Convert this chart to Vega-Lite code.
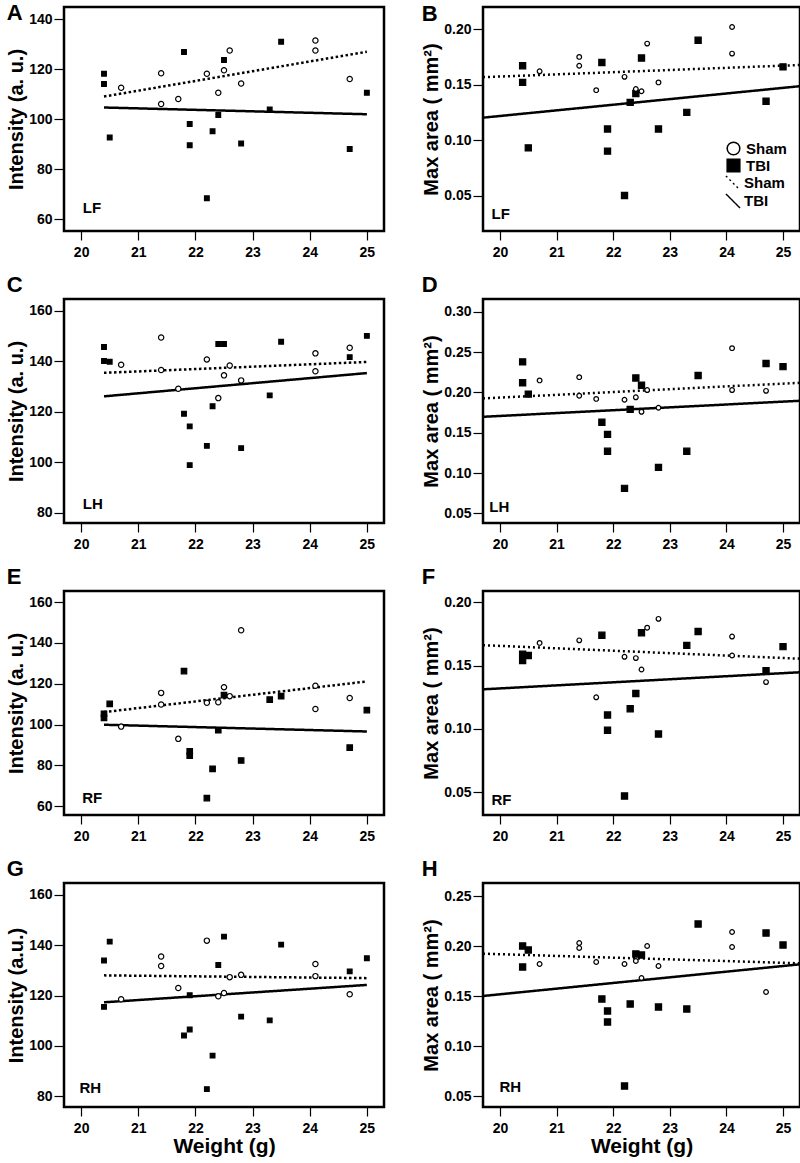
{
  "$schema": "https://vega.github.io/schema/vega-lite/v6.json",
  "background": "white",
  "padding": {"left": 5, "top": 0, "right": 0, "bottom": 0},
  "datasets": {
    "points": [
      {"p":"A","g":"TBI","w":20.4,"v":118.1},{"p":"A","g":"TBI","w":20.4,"v":114.0},{"p":"A","g":"TBI","w":20.5,"v":92.6},{"p":"A","g":"TBI","w":21.8,"v":126.8},{"p":"A","g":"TBI","w":21.9,"v":98.0},{"p":"A","g":"TBI","w":21.9,"v":89.5},{"p":"A","g":"TBI","w":22.2,"v":68.3},{"p":"A","g":"TBI","w":22.3,"v":95.1},{"p":"A","g":"TBI","w":22.4,"v":101.6},{"p":"A","g":"TBI","w":22.5,"v":123.6},{"p":"A","g":"TBI","w":22.8,"v":90.2},{"p":"A","g":"TBI","w":23.3,"v":103.8},{"p":"A","g":"TBI","w":23.5,"v":130.9},{"p":"A","g":"TBI","w":24.7,"v":88.0},{"p":"A","g":"TBI","w":25.0,"v":110.5},
      {"p":"A","g":"Sham","w":20.7,"v":112.5},{"p":"A","g":"Sham","w":21.4,"v":118.3},{"p":"A","g":"Sham","w":21.4,"v":106.0},{"p":"A","g":"Sham","w":21.7,"v":108.0},{"p":"A","g":"Sham","w":22.2,"v":118.1},{"p":"A","g":"Sham","w":22.4,"v":110.5},{"p":"A","g":"Sham","w":22.5,"v":119.5},{"p":"A","g":"Sham","w":22.6,"v":127.4},{"p":"A","g":"Sham","w":22.8,"v":114.2},{"p":"A","g":"Sham","w":24.1,"v":131.4},{"p":"A","g":"Sham","w":24.1,"v":127.4},{"p":"A","g":"Sham","w":24.7,"v":116.0},
      {"p":"B","g":"TBI","w":20.4,"v":0.167},{"p":"B","g":"TBI","w":20.4,"v":0.152},{"p":"B","g":"TBI","w":20.5,"v":0.093},{"p":"B","g":"TBI","w":21.8,"v":0.170},{"p":"B","g":"TBI","w":21.9,"v":0.110},{"p":"B","g":"TBI","w":21.9,"v":0.090},{"p":"B","g":"TBI","w":22.2,"v":0.050},{"p":"B","g":"TBI","w":22.3,"v":0.134},{"p":"B","g":"TBI","w":22.4,"v":0.142},{"p":"B","g":"TBI","w":22.5,"v":0.174},{"p":"B","g":"TBI","w":22.8,"v":0.110},{"p":"B","g":"TBI","w":23.3,"v":0.125},{"p":"B","g":"TBI","w":23.5,"v":0.190},{"p":"B","g":"TBI","w":24.7,"v":0.135},{"p":"B","g":"TBI","w":25.0,"v":0.166},
      {"p":"B","g":"Sham","w":20.7,"v":0.162},{"p":"B","g":"Sham","w":21.4,"v":0.175},{"p":"B","g":"Sham","w":21.4,"v":0.167},{"p":"B","g":"Sham","w":21.7,"v":0.145},{"p":"B","g":"Sham","w":22.2,"v":0.157},{"p":"B","g":"Sham","w":22.4,"v":0.146},{"p":"B","g":"Sham","w":22.5,"v":0.144},{"p":"B","g":"Sham","w":22.6,"v":0.187},{"p":"B","g":"Sham","w":22.8,"v":0.152},{"p":"B","g":"Sham","w":24.1,"v":0.202},{"p":"B","g":"Sham","w":24.1,"v":0.178},
      {"p":"C","g":"TBI","w":20.4,"v":145.6},{"p":"C","g":"TBI","w":20.4,"v":140.1},{"p":"C","g":"TBI","w":20.5,"v":139.8},{"p":"C","g":"TBI","w":21.8,"v":119.2},{"p":"C","g":"TBI","w":21.9,"v":114.2},{"p":"C","g":"TBI","w":21.9,"v":98.9},{"p":"C","g":"TBI","w":22.2,"v":106.5},{"p":"C","g":"TBI","w":22.3,"v":122.2},{"p":"C","g":"TBI","w":22.4,"v":146.8},{"p":"C","g":"TBI","w":22.5,"v":146.8},{"p":"C","g":"TBI","w":22.8,"v":105.6},{"p":"C","g":"TBI","w":23.3,"v":126.5},{"p":"C","g":"TBI","w":23.5,"v":147.7},{"p":"C","g":"TBI","w":24.7,"v":141.6},{"p":"C","g":"TBI","w":25.0,"v":150.0},
      {"p":"C","g":"Sham","w":20.7,"v":138.6},{"p":"C","g":"Sham","w":21.4,"v":149.4},{"p":"C","g":"Sham","w":21.4,"v":136.5},{"p":"C","g":"Sham","w":21.7,"v":129.1},{"p":"C","g":"Sham","w":22.2,"v":140.7},{"p":"C","g":"Sham","w":22.4,"v":125.4},{"p":"C","g":"Sham","w":22.5,"v":134.4},{"p":"C","g":"Sham","w":22.6,"v":138.3},{"p":"C","g":"Sham","w":22.8,"v":132.4},{"p":"C","g":"Sham","w":24.1,"v":143.1},{"p":"C","g":"Sham","w":24.1,"v":136.0},{"p":"C","g":"Sham","w":24.7,"v":145.3},
      {"p":"D","g":"TBI","w":20.4,"v":0.238},{"p":"D","g":"TBI","w":20.4,"v":0.212},{"p":"D","g":"TBI","w":20.5,"v":0.198},{"p":"D","g":"TBI","w":21.8,"v":0.163},{"p":"D","g":"TBI","w":21.9,"v":0.148},{"p":"D","g":"TBI","w":21.9,"v":0.127},{"p":"D","g":"TBI","w":22.2,"v":0.081},{"p":"D","g":"TBI","w":22.3,"v":0.179},{"p":"D","g":"TBI","w":22.4,"v":0.218},{"p":"D","g":"TBI","w":22.5,"v":0.209},{"p":"D","g":"TBI","w":22.8,"v":0.107},{"p":"D","g":"TBI","w":23.3,"v":0.127},{"p":"D","g":"TBI","w":23.5,"v":0.221},{"p":"D","g":"TBI","w":24.7,"v":0.236},{"p":"D","g":"TBI","w":25.0,"v":0.232},
      {"p":"D","g":"Sham","w":20.7,"v":0.215},{"p":"D","g":"Sham","w":21.4,"v":0.219},{"p":"D","g":"Sham","w":21.4,"v":0.196},{"p":"D","g":"Sham","w":21.7,"v":0.192},{"p":"D","g":"Sham","w":22.2,"v":0.191},{"p":"D","g":"Sham","w":22.4,"v":0.194},{"p":"D","g":"Sham","w":22.5,"v":0.176},{"p":"D","g":"Sham","w":22.6,"v":0.203},{"p":"D","g":"Sham","w":22.8,"v":0.181},{"p":"D","g":"Sham","w":24.1,"v":0.255},{"p":"D","g":"Sham","w":24.1,"v":0.203},{"p":"D","g":"Sham","w":24.7,"v":0.202},
      {"p":"E","g":"TBI","w":20.4,"v":105.3},{"p":"E","g":"TBI","w":20.4,"v":103.3},{"p":"E","g":"TBI","w":20.5,"v":110.1},{"p":"E","g":"TBI","w":21.8,"v":126.2},{"p":"E","g":"TBI","w":21.9,"v":86.9},{"p":"E","g":"TBI","w":21.9,"v":84.7},{"p":"E","g":"TBI","w":22.2,"v":64.0},{"p":"E","g":"TBI","w":22.3,"v":78.3},{"p":"E","g":"TBI","w":22.4,"v":97.2},{"p":"E","g":"TBI","w":22.5,"v":114.4},{"p":"E","g":"TBI","w":22.8,"v":82.4},{"p":"E","g":"TBI","w":23.3,"v":112.2},{"p":"E","g":"TBI","w":23.5,"v":113.9},{"p":"E","g":"TBI","w":24.7,"v":88.7},{"p":"E","g":"TBI","w":25.0,"v":107.1},
      {"p":"E","g":"Sham","w":20.7,"v":99.0},{"p":"E","g":"Sham","w":21.4,"v":115.5},{"p":"E","g":"Sham","w":21.4,"v":109.8},{"p":"E","g":"Sham","w":21.7,"v":93.0},{"p":"E","g":"Sham","w":22.2,"v":110.7},{"p":"E","g":"Sham","w":22.4,"v":110.9},{"p":"E","g":"Sham","w":22.5,"v":118.3},{"p":"E","g":"Sham","w":22.6,"v":113.9},{"p":"E","g":"Sham","w":22.8,"v":146.2},{"p":"E","g":"Sham","w":24.1,"v":119.0},{"p":"E","g":"Sham","w":24.1,"v":107.6},{"p":"E","g":"Sham","w":24.7,"v":113.0},
      {"p":"F","g":"TBI","w":20.4,"v":0.159},{"p":"F","g":"TBI","w":20.4,"v":0.154},{"p":"F","g":"TBI","w":20.5,"v":0.158},{"p":"F","g":"TBI","w":21.8,"v":0.174},{"p":"F","g":"TBI","w":21.9,"v":0.111},{"p":"F","g":"TBI","w":21.9,"v":0.099},{"p":"F","g":"TBI","w":22.2,"v":0.047},{"p":"F","g":"TBI","w":22.3,"v":0.116},{"p":"F","g":"TBI","w":22.4,"v":0.128},{"p":"F","g":"TBI","w":22.5,"v":0.176},{"p":"F","g":"TBI","w":22.8,"v":0.096},{"p":"F","g":"TBI","w":23.3,"v":0.166},{"p":"F","g":"TBI","w":23.5,"v":0.177},{"p":"F","g":"TBI","w":24.7,"v":0.146},{"p":"F","g":"TBI","w":25.0,"v":0.165},
      {"p":"F","g":"Sham","w":20.7,"v":0.168},{"p":"F","g":"Sham","w":21.4,"v":0.170},{"p":"F","g":"Sham","w":21.7,"v":0.125},{"p":"F","g":"Sham","w":22.2,"v":0.157},{"p":"F","g":"Sham","w":22.4,"v":0.156},{"p":"F","g":"Sham","w":22.5,"v":0.147},{"p":"F","g":"Sham","w":22.6,"v":0.180},{"p":"F","g":"Sham","w":22.8,"v":0.187},{"p":"F","g":"Sham","w":24.1,"v":0.173},{"p":"F","g":"Sham","w":24.1,"v":0.158},{"p":"F","g":"Sham","w":24.7,"v":0.137},
      {"p":"G","g":"TBI","w":20.4,"v":133.9},{"p":"G","g":"TBI","w":20.4,"v":115.5},{"p":"G","g":"TBI","w":20.5,"v":141.4},{"p":"G","g":"TBI","w":21.8,"v":104.1},{"p":"G","g":"TBI","w":21.9,"v":120.1},{"p":"G","g":"TBI","w":21.9,"v":106.5},{"p":"G","g":"TBI","w":22.2,"v":82.8},{"p":"G","g":"TBI","w":22.3,"v":96.1},{"p":"G","g":"TBI","w":22.4,"v":132.1},{"p":"G","g":"TBI","w":22.5,"v":143.4},{"p":"G","g":"TBI","w":22.8,"v":111.6},{"p":"G","g":"TBI","w":23.3,"v":110.1},{"p":"G","g":"TBI","w":23.5,"v":140.2},{"p":"G","g":"TBI","w":24.7,"v":129.6},{"p":"G","g":"TBI","w":25.0,"v":134.8},
      {"p":"G","g":"Sham","w":20.7,"v":118.5},{"p":"G","g":"Sham","w":21.4,"v":135.5},{"p":"G","g":"Sham","w":21.4,"v":131.7},{"p":"G","g":"Sham","w":21.7,"v":123.0},{"p":"G","g":"Sham","w":22.2,"v":141.8},{"p":"G","g":"Sham","w":22.4,"v":119.7},{"p":"G","g":"Sham","w":22.5,"v":121.0},{"p":"G","g":"Sham","w":22.6,"v":127.3},{"p":"G","g":"Sham","w":22.8,"v":128.2},{"p":"G","g":"Sham","w":24.1,"v":132.5},{"p":"G","g":"Sham","w":24.1,"v":127.7},{"p":"G","g":"Sham","w":24.7,"v":120.5},
      {"p":"H","g":"TBI","w":20.4,"v":0.200},{"p":"H","g":"TBI","w":20.4,"v":0.179},{"p":"H","g":"TBI","w":20.5,"v":0.196},{"p":"H","g":"TBI","w":21.8,"v":0.147},{"p":"H","g":"TBI","w":21.9,"v":0.135},{"p":"H","g":"TBI","w":21.9,"v":0.124},{"p":"H","g":"TBI","w":22.2,"v":0.060},{"p":"H","g":"TBI","w":22.3,"v":0.142},{"p":"H","g":"TBI","w":22.4,"v":0.192},{"p":"H","g":"TBI","w":22.5,"v":0.191},{"p":"H","g":"TBI","w":22.8,"v":0.139},{"p":"H","g":"TBI","w":23.3,"v":0.137},{"p":"H","g":"TBI","w":23.5,"v":0.222},{"p":"H","g":"TBI","w":24.7,"v":0.213},{"p":"H","g":"TBI","w":25.0,"v":0.201},
      {"p":"H","g":"Sham","w":20.7,"v":0.182},{"p":"H","g":"Sham","w":21.4,"v":0.203},{"p":"H","g":"Sham","w":21.4,"v":0.198},{"p":"H","g":"Sham","w":21.7,"v":0.184},{"p":"H","g":"Sham","w":22.2,"v":0.182},{"p":"H","g":"Sham","w":22.4,"v":0.185},{"p":"H","g":"Sham","w":22.5,"v":0.168},{"p":"H","g":"Sham","w":22.6,"v":0.200},{"p":"H","g":"Sham","w":22.8,"v":0.180},{"p":"H","g":"Sham","w":24.1,"v":0.214},{"p":"H","g":"Sham","w":24.1,"v":0.199},{"p":"H","g":"Sham","w":24.7,"v":0.154}
    ],
    "lines": [
      {"p":"A","fit":"Sham","w":20.4,"v":109.0},{"p":"A","fit":"Sham","w":25.0,"v":126.9},{"p":"A","fit":"TBI","w":20.4,"v":104.6},{"p":"A","fit":"TBI","w":25.0,"v":101.9},
      {"p":"B","fit":"Sham","w":19.7,"v":0.1567},{"p":"B","fit":"Sham","w":25.3,"v":0.1677},{"p":"B","fit":"TBI","w":19.7,"v":0.1202},{"p":"B","fit":"TBI","w":25.3,"v":0.1486},
      {"p":"C","fit":"Sham","w":20.4,"v":135.4},{"p":"C","fit":"Sham","w":25.0,"v":139.7},{"p":"C","fit":"TBI","w":20.4,"v":126.1},{"p":"C","fit":"TBI","w":25.0,"v":135.3},
      {"p":"D","fit":"Sham","w":19.7,"v":0.1926},{"p":"D","fit":"Sham","w":25.3,"v":0.212},{"p":"D","fit":"TBI","w":19.7,"v":0.1698},{"p":"D","fit":"TBI","w":25.3,"v":0.1897},
      {"p":"E","fit":"Sham","w":20.4,"v":106.1},{"p":"E","fit":"Sham","w":25.0,"v":121.1},{"p":"E","fit":"TBI","w":20.4,"v":99.9},{"p":"E","fit":"TBI","w":25.0,"v":96.6},
      {"p":"F","fit":"Sham","w":19.7,"v":0.1662},{"p":"F","fit":"Sham","w":25.3,"v":0.1555},{"p":"F","fit":"TBI","w":19.7,"v":0.1313},{"p":"F","fit":"TBI","w":25.3,"v":0.1448},
      {"p":"G","fit":"Sham","w":20.4,"v":128.0},{"p":"G","fit":"Sham","w":25.0,"v":126.9},{"p":"G","fit":"TBI","w":20.4,"v":117.3},{"p":"G","fit":"TBI","w":25.0,"v":124.2},
      {"p":"H","fit":"Sham","w":19.7,"v":0.1923},{"p":"H","fit":"Sham","w":25.3,"v":0.1827},{"p":"H","fit":"TBI","w":19.7,"v":0.150},{"p":"H","fit":"TBI","w":25.3,"v":0.1817}
    ]
  },
  "columns": 2,
  "spacing": {"row": 11, "column": 34},
  "concat": [
    {
      "width": 320, "height": 224,
      "title": {"text": "A", "offset": -18},
      "layer": [
        {"data": {"name": "lines"}, "transform": [{"filter": "datum.p === 'A'"}],
         "mark": {"type": "line", "color": "black", "strokeWidth": 2.5, "clip": true},
         "encoding": {
           "x": {"field": "w", "type": "quantitative", "scale": {"domain": [19.7, 25.3], "nice": false, "zero": false}, "axis": {"values": [20,21,22,23,24,25], "format": "d", "title": null}},
           "y": {"field": "v", "type": "quantitative", "scale": {"domain": [55.2, 144.8], "nice": false, "zero": false}, "axis": {"values": [60,80,100,120,140], "title": "Intensity (a. u.)"}},
           "strokeDash": {"field": "fit", "type": "nominal", "scale": {"range": [[2.5,2.5],[1,0]]}, "legend": null}}},
        {"data": {"name": "points"}, "transform": [{"filter": "datum.p === 'A'"}],
         "mark": {"type": "point", "filled": true, "stroke": "black", "strokeWidth": 1.2, "opacity": 1},
         "encoding": {
           "x": {"field": "w", "type": "quantitative"},
           "y": {"field": "v", "type": "quantitative"},
           "shape": {"field": "g", "type": "nominal", "scale": {"domain": ["Sham","TBI"], "range": ["circle","square"]}, "legend": null},
           "fill": {"field": "g", "type": "nominal", "scale": {"domain": ["Sham","TBI"], "range": ["white","black"]}, "legend": null},
           "size": {"field": "g", "type": "ordinal", "scale": {"range": [28, 22]}, "legend": null}}},
        {"data": {"values": [{"t": "LF"}]},
         "mark": {"type": "text", "align": "left", "baseline": "alphabetic", "fontSize": 15, "fontWeight": "bold", "font": "Liberation Sans", "color": "black"},
         "encoding": {"x": {"datum": 20.03}, "y": {"datum": 62.3}, "text": {"field": "t"}}}
      ]
    },
    {
      "width": 317, "height": 224,
      "title": {"text": "B", "offset": -19},
      "layer": [
        {"data": {"name": "lines"}, "transform": [{"filter": "datum.p === 'B'"}],
         "mark": {"type": "line", "color": "black", "strokeWidth": 2.5, "clip": true},
         "encoding": {
           "x": {"field": "w", "type": "quantitative", "scale": {"domain": [19.7, 25.3], "nice": false, "zero": false}, "axis": {"values": [20,21,22,23,24,25], "format": "d", "title": null}},
           "y": {"field": "v", "type": "quantitative", "scale": {"domain": [0.018, 0.22], "nice": false, "zero": false}, "axis": {"values": [0.05,0.1,0.15,0.2], "format": ".2f", "title": "Max area ( mm²)"}},
           "strokeDash": {"field": "fit", "type": "nominal", "scale": {"range": [[2,3],[1,0]]},
             "legend": {"orient": "none", "legendX": 242, "legendY": 168, "direction": "vertical", "title": null, "padding": 0, "symbolType": "M-1,-1L1,1", "symbolSize": 200, "symbolStrokeWidth": 1.4, "symbolStrokeColor": "black", "labelFont": "Liberation Sans", "labelFontSize": 15, "labelFontWeight": "bold", "labelColor": "black", "labelOffset": 3, "rowPadding": -5,
               "encode": {"symbols": {"update": {"stroke": {"value": "black"}, "strokeWidth": {"value": 1.4}, "fill": {"value": "transparent"}}}}}}}},
        {"data": {"name": "points"}, "transform": [{"filter": "datum.p === 'B'"}],
         "mark": {"type": "point", "filled": true, "stroke": "black", "strokeWidth": 1.2, "opacity": 1},
         "encoding": {
           "x": {"field": "w", "type": "quantitative"},
           "y": {"field": "v", "type": "quantitative"},
           "shape": {"field": "g", "type": "nominal", "scale": {"domain": ["Sham","TBI"], "range": ["circle","square"]},
             "legend": {"orient": "none", "legendX": 243, "legendY": 134, "direction": "vertical", "title": null, "padding": 0, "symbolSize": 160, "labelFont": "Liberation Sans", "labelFontSize": 15, "labelFontWeight": "bold", "labelColor": "black", "labelOffset": 5, "rowPadding": -4,
               "encode": {"symbols": {"update": {"stroke": {"value": "black"}, "strokeWidth": {"value": 1.6}}}}}},
           "fill": {"field": "g", "type": "nominal", "scale": {"domain": ["Sham","TBI"], "range": ["white","black"]},
             "legend": {"orient": "none", "legendX": 243, "legendY": 134, "direction": "vertical", "title": null, "padding": 0, "symbolSize": 160, "labelFont": "Liberation Sans", "labelFontSize": 15, "labelFontWeight": "bold", "labelColor": "black", "labelOffset": 5, "rowPadding": -4,
               "encode": {"symbols": {"update": {"stroke": {"value": "black"}, "strokeWidth": {"value": 1.6}}}}}},
           "size": {"field": "g", "type": "ordinal", "scale": {"range": [22, 38]}, "legend": null}}},
        {"data": {"values": [{"t": "LF"}]},
         "mark": {"type": "text", "align": "left", "baseline": "alphabetic", "fontSize": 15, "fontWeight": "bold", "font": "Liberation Sans", "color": "black"},
         "encoding": {"x": {"datum": 19.85}, "y": {"datum": 0.029}, "text": {"field": "t"}}}
      ]
    },
    {
      "width": 320, "height": 224,
      "title": {"text": "C", "offset": 2},
      "layer": [
        {"data": {"name": "lines"}, "transform": [{"filter": "datum.p === 'C'"}],
         "mark": {"type": "line", "color": "black", "strokeWidth": 2.5, "clip": true},
         "encoding": {
           "x": {"field": "w", "type": "quantitative", "scale": {"domain": [19.7, 25.3], "nice": false, "zero": false}, "axis": {"values": [20,21,22,23,24,25], "format": "d", "title": null}},
           "y": {"field": "v", "type": "quantitative", "scale": {"domain": [76, 164.6], "nice": false, "zero": false}, "axis": {"values": [80,100,120,140,160], "title": "Intensity (a. u.)"}},
           "strokeDash": {"field": "fit", "type": "nominal", "scale": {"range": [[2.5,2.5],[1,0]]}, "legend": null}}},
        {"data": {"name": "points"}, "transform": [{"filter": "datum.p === 'C'"}],
         "mark": {"type": "point", "filled": true, "stroke": "black", "strokeWidth": 1.2, "opacity": 1},
         "encoding": {
           "x": {"field": "w", "type": "quantitative"},
           "y": {"field": "v", "type": "quantitative"},
           "shape": {"field": "g", "type": "nominal", "scale": {"domain": ["Sham","TBI"], "range": ["circle","square"]}, "legend": null},
           "fill": {"field": "g", "type": "nominal", "scale": {"domain": ["Sham","TBI"], "range": ["white","black"]}, "legend": null},
           "size": {"field": "g", "type": "ordinal", "scale": {"range": [28, 22]}, "legend": null}}},
        {"data": {"values": [{"t": "LH"}]},
         "mark": {"type": "text", "align": "left", "baseline": "alphabetic", "fontSize": 15, "fontWeight": "bold", "font": "Liberation Sans", "color": "black"},
         "encoding": {"x": {"datum": 20.03}, "y": {"datum": 81.7}, "text": {"field": "t"}}}
      ]
    },
    {
      "width": 317, "height": 224,
      "title": {"text": "D", "offset": 2},
      "layer": [
        {"data": {"name": "lines"}, "transform": [{"filter": "datum.p === 'D'"}],
         "mark": {"type": "line", "color": "black", "strokeWidth": 2.5, "clip": true},
         "encoding": {
           "x": {"field": "w", "type": "quantitative", "scale": {"domain": [19.7, 25.3], "nice": false, "zero": false}, "axis": {"values": [20,21,22,23,24,25], "format": "d", "title": null}},
           "y": {"field": "v", "type": "quantitative", "scale": {"domain": [0.038, 0.316], "nice": false, "zero": false}, "axis": {"values": [0.05,0.1,0.15,0.2,0.25,0.3], "format": ".2f", "title": "Max area ( mm²)"}},
           "strokeDash": {"field": "fit", "type": "nominal", "scale": {"range": [[2,3],[1,0]]}, "legend": null}}},
        {"data": {"name": "points"}, "transform": [{"filter": "datum.p === 'D'"}],
         "mark": {"type": "point", "filled": true, "stroke": "black", "strokeWidth": 1.2, "opacity": 1},
         "encoding": {
           "x": {"field": "w", "type": "quantitative"},
           "y": {"field": "v", "type": "quantitative"},
           "shape": {"field": "g", "type": "nominal", "scale": {"domain": ["Sham","TBI"], "range": ["circle","square"]}, "legend": null},
           "fill": {"field": "g", "type": "nominal", "scale": {"domain": ["Sham","TBI"], "range": ["white","black"]}, "legend": null},
           "size": {"field": "g", "type": "ordinal", "scale": {"range": [22, 38]}, "legend": null}}},
        {"data": {"values": [{"t": "LH"}]},
         "mark": {"type": "text", "align": "left", "baseline": "alphabetic", "fontSize": 15, "fontWeight": "bold", "font": "Liberation Sans", "color": "black"},
         "encoding": {"x": {"datum": 19.81}, "y": {"datum": 0.052}, "text": {"field": "t"}}}
      ]
    },
    {
      "width": 320, "height": 224,
      "title": {"text": "E", "offset": 2},
      "layer": [
        {"data": {"name": "lines"}, "transform": [{"filter": "datum.p === 'E'"}],
         "mark": {"type": "line", "color": "black", "strokeWidth": 2.5, "clip": true},
         "encoding": {
           "x": {"field": "w", "type": "quantitative", "scale": {"domain": [19.7, 25.3], "nice": false, "zero": false}, "axis": {"values": [20,21,22,23,24,25], "format": "d", "title": null}},
           "y": {"field": "v", "type": "quantitative", "scale": {"domain": [55.7, 165.4], "nice": false, "zero": false}, "axis": {"values": [60,80,100,120,140,160], "title": "Intensity (a. u.)"}},
           "strokeDash": {"field": "fit", "type": "nominal", "scale": {"range": [[2.5,2.5],[1,0]]}, "legend": null}}},
        {"data": {"name": "points"}, "transform": [{"filter": "datum.p === 'E'"}],
         "mark": {"type": "point", "filled": true, "stroke": "black", "strokeWidth": 1.2, "opacity": 1},
         "encoding": {
           "x": {"field": "w", "type": "quantitative"},
           "y": {"field": "v", "type": "quantitative"},
           "shape": {"field": "g", "type": "nominal", "scale": {"domain": ["Sham","TBI"], "range": ["circle","square"]}, "legend": null},
           "fill": {"field": "g", "type": "nominal", "scale": {"domain": ["Sham","TBI"], "range": ["white","black"]}, "legend": null},
           "size": {"field": "g", "type": "ordinal", "scale": {"range": [28, 30]}, "legend": null}}},
        {"data": {"values": [{"t": "RF"}]},
         "mark": {"type": "text", "align": "left", "baseline": "alphabetic", "fontSize": 15, "fontWeight": "bold", "font": "Liberation Sans", "color": "black"},
         "encoding": {"x": {"datum": 20.02}, "y": {"datum": 61.6}, "text": {"field": "t"}}}
      ]
    },
    {
      "width": 317, "height": 224,
      "title": {"text": "F", "offset": 2},
      "layer": [
        {"data": {"name": "lines"}, "transform": [{"filter": "datum.p === 'F'"}],
         "mark": {"type": "line", "color": "black", "strokeWidth": 2.5, "clip": true},
         "encoding": {
           "x": {"field": "w", "type": "quantitative", "scale": {"domain": [19.7, 25.3], "nice": false, "zero": false}, "axis": {"values": [20,21,22,23,24,25], "format": "d", "title": null}},
           "y": {"field": "v", "type": "quantitative", "scale": {"domain": [0.032, 0.209], "nice": false, "zero": false}, "axis": {"values": [0.05,0.1,0.15,0.2], "format": ".2f", "title": "Max area ( mm²)"}},
           "strokeDash": {"field": "fit", "type": "nominal", "scale": {"range": [[2,3],[1,0]]}, "legend": null}}},
        {"data": {"name": "points"}, "transform": [{"filter": "datum.p === 'F'"}],
         "mark": {"type": "point", "filled": true, "stroke": "black", "strokeWidth": 1.2, "opacity": 1},
         "encoding": {
           "x": {"field": "w", "type": "quantitative"},
           "y": {"field": "v", "type": "quantitative"},
           "shape": {"field": "g", "type": "nominal", "scale": {"domain": ["Sham","TBI"], "range": ["circle","square"]}, "legend": null},
           "fill": {"field": "g", "type": "nominal", "scale": {"domain": ["Sham","TBI"], "range": ["white","black"]}, "legend": null},
           "size": {"field": "g", "type": "ordinal", "scale": {"range": [22, 38]}, "legend": null}}},
        {"data": {"values": [{"t": "RF"}]},
         "mark": {"type": "text", "align": "left", "baseline": "alphabetic", "fontSize": 15, "fontWeight": "bold", "font": "Liberation Sans", "color": "black"},
         "encoding": {"x": {"datum": 19.85}, "y": {"datum": 0.04}, "text": {"field": "t"}}}
      ]
    },
    {
      "width": 320, "height": 224,
      "title": {"text": "G", "offset": 2},
      "layer": [
        {"data": {"name": "lines"}, "transform": [{"filter": "datum.p === 'G'"}],
         "mark": {"type": "line", "color": "black", "strokeWidth": 2.5, "clip": true},
         "encoding": {
           "x": {"field": "w", "type": "quantitative", "scale": {"domain": [19.7, 25.3], "nice": false, "zero": false}, "axis": {"values": [20,21,22,23,24,25], "format": "d", "title": "Weight (g)"}},
           "y": {"field": "v", "type": "quantitative", "scale": {"domain": [75.7, 164.7], "nice": false, "zero": false}, "axis": {"values": [80,100,120,140,160], "title": "Intensity (a.u.)"}},
           "strokeDash": {"field": "fit", "type": "nominal", "scale": {"range": [[2.5,2.5],[1,0]]}, "legend": null}}},
        {"data": {"name": "points"}, "transform": [{"filter": "datum.p === 'G'"}],
         "mark": {"type": "point", "filled": true, "stroke": "black", "strokeWidth": 1.2, "opacity": 1},
         "encoding": {
           "x": {"field": "w", "type": "quantitative"},
           "y": {"field": "v", "type": "quantitative"},
           "shape": {"field": "g", "type": "nominal", "scale": {"domain": ["Sham","TBI"], "range": ["circle","square"]}, "legend": null},
           "fill": {"field": "g", "type": "nominal", "scale": {"domain": ["Sham","TBI"], "range": ["white","black"]}, "legend": null},
           "size": {"field": "g", "type": "ordinal", "scale": {"range": [28, 22]}, "legend": null}}},
        {"data": {"values": [{"t": "RH"}]},
         "mark": {"type": "text", "align": "left", "baseline": "alphabetic", "fontSize": 15, "fontWeight": "bold", "font": "Liberation Sans", "color": "black"},
         "encoding": {"x": {"datum": 19.97}, "y": {"datum": 81.3}, "text": {"field": "t"}}}
      ]
    },
    {
      "width": 317, "height": 224,
      "title": {"text": "H", "offset": 2},
      "layer": [
        {"data": {"name": "lines"}, "transform": [{"filter": "datum.p === 'H'"}],
         "mark": {"type": "line", "color": "black", "strokeWidth": 2.5, "clip": true},
         "encoding": {
           "x": {"field": "w", "type": "quantitative", "scale": {"domain": [19.7, 25.3], "nice": false, "zero": false}, "axis": {"values": [20,21,22,23,24,25], "format": "d", "title": "Weight (g)"}},
           "y": {"field": "v", "type": "quantitative", "scale": {"domain": [0.039, 0.263], "nice": false, "zero": false}, "axis": {"values": [0.05,0.1,0.15,0.2,0.25], "format": ".2f", "title": "Max area ( mm²)"}},
           "strokeDash": {"field": "fit", "type": "nominal", "scale": {"range": [[2,3],[1,0]]}, "legend": null}}},
        {"data": {"name": "points"}, "transform": [{"filter": "datum.p === 'H'"}],
         "mark": {"type": "point", "filled": true, "stroke": "black", "strokeWidth": 1.2, "opacity": 1},
         "encoding": {
           "x": {"field": "w", "type": "quantitative"},
           "y": {"field": "v", "type": "quantitative"},
           "shape": {"field": "g", "type": "nominal", "scale": {"domain": ["Sham","TBI"], "range": ["circle","square"]}, "legend": null},
           "fill": {"field": "g", "type": "nominal", "scale": {"domain": ["Sham","TBI"], "range": ["white","black"]}, "legend": null},
           "size": {"field": "g", "type": "ordinal", "scale": {"range": [22, 38]}, "legend": null}}},
        {"data": {"values": [{"t": "RH"}]},
         "mark": {"type": "text", "align": "left", "baseline": "alphabetic", "fontSize": 15, "fontWeight": "bold", "font": "Liberation Sans", "color": "black"},
         "encoding": {"x": {"datum": 19.99}, "y": {"datum": 0.054}, "text": {"field": "t"}}}
      ]
    }
  ],
  "resolve": {
    "scale": {"x": "independent", "y": "independent", "shape": "independent", "fill": "independent", "size": "independent", "strokeDash": "independent"},
    "legend": {"shape": "independent", "fill": "independent", "size": "independent", "strokeDash": "independent"}
  },
  "config": {
    "view": {"stroke": "black", "strokeWidth": 2.5},
    "axis": {"domain": false, "grid": false, "tickColor": "black", "tickWidth": 1.2, "labelFont": "Liberation Sans", "labelFontWeight": "bold", "labelFontSize": 14, "labelColor": "black", "titleFont": "Liberation Sans", "titleFontWeight": "bold", "titleColor": "black"},
    "axisY": {"tickSize": 10, "labelPadding": 2, "titleFontSize": 20, "titlePadding": 2},
    "axisX": {"tickSize": 9, "labelPadding": 5, "titleFontSize": 21, "titlePadding": 0},
    "title": {"font": "Liberation Sans", "fontSize": 22, "fontWeight": "bold", "anchor": "start", "frame": "bounds", "color": "black", "baseline": "bottom"}
  }
}
